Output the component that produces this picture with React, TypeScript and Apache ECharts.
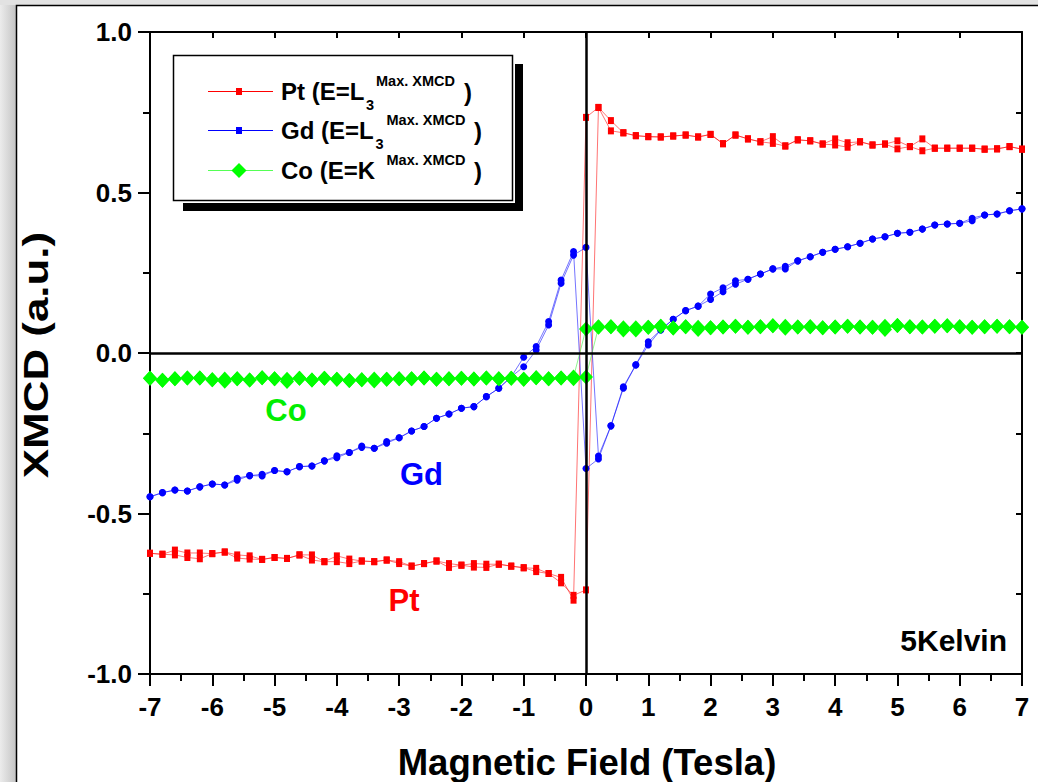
import React, { useEffect, useRef } from "react";
import * as echarts from "echarts";

// Magnetic field (Tesla), both sweeps sampled on the same grid
const fields = [
  -7, -6.8, -6.6, -6.4, -6.2, -6, -5.8, -5.6, -5.4, -5.2,
  -5, -4.8, -4.6, -4.4, -4.2, -4, -3.8, -3.6, -3.4, -3.2,
  -3, -2.8, -2.6, -2.4, -2.2, -2, -1.8, -1.6, -1.4, -1.2,
  -1, -0.8, -0.6, -0.4, -0.2, 0, 0.2, 0.4, 0.6, 0.8,
  1, 1.2, 1.4, 1.6, 1.8, 2, 2.2, 2.4, 2.6, 2.8,
  3, 3.2, 3.4, 3.6, 3.8, 4, 4.2, 4.4, 4.6, 4.8,
  5, 5.2, 5.4, 5.6, 5.8, 6, 6.2, 6.4, 6.6, 6.8,
  7,
];

const ptDown = [
  -0.624, -0.627, -0.614, -0.623, -0.623, -0.625, -0.62, -0.629, -0.632, -0.643,
  -0.637, -0.64, -0.629, -0.629, -0.65, -0.632, -0.642, -0.648, -0.65, -0.645,
  -0.65, -0.664, -0.656, -0.648, -0.656, -0.661, -0.656, -0.658, -0.658, -0.664,
  -0.669, -0.671, -0.687, -0.699, -0.77, 0.734, 0.765, 0.724, 0.686, 0.677,
  0.674, 0.673, 0.676, 0.679, 0.673, 0.681, 0.652, 0.679, 0.667, 0.658,
  0.674, 0.645, 0.664, 0.661, 0.651, 0.667, 0.655, 0.658, 0.648, 0.651,
  0.661, 0.643, 0.667, 0.638, 0.638, 0.638, 0.638, 0.635, 0.636, 0.643,
  0.635,
];
const ptUp = [
  -0.624, -0.627, -0.629, -0.637, -0.641, -0.625, -0.62, -0.639, -0.642, -0.643,
  -0.637, -0.64, -0.629, -0.645, -0.65, -0.65, -0.656, -0.648, -0.65, -0.645,
  -0.656, -0.664, -0.656, -0.648, -0.668, -0.661, -0.667, -0.668, -0.658, -0.664,
  -0.669, -0.681, -0.687, -0.716, -0.755, -0.738, 0.765, 0.692, 0.686, 0.677,
  0.674, 0.673, 0.676, 0.679, 0.673, 0.681, 0.652, 0.679, 0.667, 0.658,
  0.653, 0.645, 0.664, 0.661, 0.651, 0.648, 0.641, 0.658, 0.648, 0.651,
  0.636, 0.643, 0.63, 0.638, 0.638, 0.638, 0.638, 0.635, 0.636, 0.643,
  0.635,
];

const gdDown = [
  -0.448, -0.435, -0.427, -0.43, -0.417, -0.408, -0.411, -0.396, -0.382, -0.383,
  -0.366, -0.37, -0.354, -0.352, -0.336, -0.326, -0.31, -0.294, -0.297, -0.281,
  -0.264, -0.243, -0.229, -0.203, -0.19, -0.172, -0.167, -0.136, -0.11, -0.074,
  -0.043, 0.009, 0.087, 0.217, 0.305, 0.329, -0.321, -0.227, -0.105, -0.037,
  0.025, 0.072, 0.105, 0.132, 0.146, 0.167, 0.191, 0.214, 0.23, 0.246,
  0.262, 0.262, 0.287, 0.3, 0.314, 0.323, 0.331, 0.342, 0.355, 0.362,
  0.373, 0.376, 0.386, 0.399, 0.402, 0.404, 0.42, 0.43, 0.433, 0.443,
  0.449,
];
const gdUp = [
  -0.448, -0.435, -0.427, -0.43, -0.417, -0.408, -0.411, -0.39, -0.382, -0.378,
  -0.366, -0.37, -0.354, -0.352, -0.336, -0.32, -0.31, -0.29, -0.297, -0.276,
  -0.264, -0.243, -0.229, -0.203, -0.19, -0.172, -0.167, -0.136, -0.11, -0.074,
  -0.013, 0.02, 0.098, 0.227, 0.316, -0.36, -0.33, -0.227, -0.11, -0.037,
  0.035, 0.072, 0.105, 0.132, 0.146, 0.184, 0.203, 0.225, 0.23, 0.246,
  0.262, 0.27, 0.287, 0.3, 0.314, 0.323, 0.331, 0.342, 0.355, 0.362,
  0.373, 0.376, 0.386, 0.399, 0.402, 0.404, 0.412, 0.43, 0.433, 0.443,
  0.449,
];

const coDown = [
  -0.079, -0.085, -0.08, -0.078, -0.078, -0.083, -0.081, -0.08, -0.084, -0.077,
  -0.08, -0.082, -0.079, -0.084, -0.079, -0.082, -0.086, -0.083, -0.081, -0.082,
  -0.08, -0.08, -0.078, -0.082, -0.08, -0.079, -0.081, -0.078, -0.08, -0.079,
  -0.082, -0.077, -0.08, -0.078, -0.075, 0.075, 0.082, 0.082, 0.079, 0.079,
  0.08, 0.083, 0.078, 0.082, 0.08, 0.079, 0.081, 0.083, 0.08, 0.082,
  0.085, 0.083, 0.081, 0.082, 0.079, 0.081, 0.083, 0.081, 0.08, 0.083,
  0.086, 0.082, 0.081, 0.083, 0.085, 0.082, 0.08, 0.082, 0.083, 0.082,
  0.08,
];
const coUp = [
  -0.079, -0.085, -0.08, -0.078, -0.078, -0.083, -0.088, -0.08, -0.084, -0.077,
  -0.08, -0.089, -0.079, -0.084, -0.079, -0.082, -0.086, -0.083, -0.087, -0.082,
  -0.08, -0.08, -0.078, -0.082, -0.08, -0.079, -0.081, -0.078, -0.08, -0.079,
  -0.082, -0.077, -0.08, -0.078, -0.08, -0.075, 0.08, 0.082, 0.072, 0.072,
  0.08, 0.083, 0.078, 0.082, 0.073, 0.079, 0.081, 0.083, 0.08, 0.082,
  0.085, 0.077, 0.081, 0.082, 0.079, 0.081, 0.083, 0.081, 0.08, 0.073,
  0.086, 0.082, 0.081, 0.083, 0.085, 0.082, 0.08, 0.082, 0.083, 0.082,
  0.08,
];

const seriesNames = ["Pt", "Gd", "Co"];
const legendMain = ["Pt (E=L", "Gd (E=L", "Co (E=K"];
const legendSub = ["3", "3", ""];
const legendSup = "Max. XMCD";
const xTitle = "Magnetic Field (Tesla)";
const yTitle = "XMCD (a.u.)";
const tempLabel = "5Kelvin";

const RED = "#ff0000";
const BLUE = "#0000ff";
const GREEN = "#00ff00";
const FONT = "'Liberation Sans', Arial, Helvetica, sans-serif";

const pts = (vals: number[]) => fields.map((x, i) => [x, vals[i]]);

function txt(
  text: string,
  x: number,
  y: number,
  size: number,
  color: string,
  align: string = "left",
  extra: any = {}
) {
  return {
    type: "text",
    x,
    y,
    z: 100,
    ...extra,
    style: {
      text,
      x: 0,
      y: 0,
      fill: color,
      fontSize: size,
      fontWeight: "bold",
      fontFamily: FONT,
      align,
      textAlign: align,
      verticalAlign: "middle",
      textVerticalAlign: "middle",
    },
  };
}

export default function App() {
  const ref = useRef<HTMLDivElement>(null);

  useEffect(() => {
    if (!ref.current) return;
    const chart = echarts.init(ref.current, null, { renderer: "svg" });

    const lineSeries = (
      name: string,
      vals: number[],
      color: string,
      symbol: string,
      size: any,
      lineColor: string
    ) => ({
      name,
      type: "line",
      data: pts(vals),
      symbol,
      symbolSize: size,
      showAllSymbol: true,
      itemStyle: { color },
      lineStyle: { color: lineColor, width: 1, opacity: 0.55 },
      emphasis: { disabled: true },
      z: 3,
    });

    const rows = [91.5, 130.5, 170.5];
    const colors = [RED, BLUE, GREEN];
    const lineColors = [RED, BLUE, "#55ff55"];
    const supX = [376, 386.5, 386.5];
    const subX = [366, 375.5, 0];
    const parenX = [464, 474, 474];

    const legendEls: any[] = [
      { type: "rect", z: 90, shape: { x: 515, y: 64, width: 8, height: 139 }, style: { fill: "#000" } },
      { type: "rect", z: 90, shape: { x: 183, y: 203, width: 340, height: 8 }, style: { fill: "#000" } },
      {
        type: "rect",
        z: 91,
        shape: { x: 173.5, y: 55.5, width: 339, height: 145 },
        style: { fill: "#fff", stroke: "#000", lineWidth: 1.5 },
      },
    ];
    rows.forEach((ry, i) => {
      legendEls.push({
        type: "line",
        z: 95,
        shape: { x1: 208, y1: ry, x2: 273, y2: ry },
        style: { stroke: lineColors[i], lineWidth: 1.2 },
      });
      if (i < 2) {
        legendEls.push({
          type: "rect",
          z: 96,
          shape: { x: 236, y: ry - 3.5, width: 6, height: 7 },
          style: { fill: colors[i] },
        });
      } else {
        legendEls.push({
          type: "polygon",
          z: 96,
          shape: { points: [[239, ry - 7.5], [246.5, ry], [239, ry + 7.5], [231.5, ry]] },
          style: { fill: colors[i] },
        });
      }
      legendEls.push(txt(legendMain[i], 281, ry, 24, "#000"));
      if (legendSub[i]) legendEls.push(txt(legendSub[i], subX[i], ry + 13.5, 14.5, "#000"));
      legendEls.push(txt(legendSup, supX[i], ry - 10.5, 14.5, "#000"));
      legendEls.push(txt(")", parenX[i], ry + 0.5, 24, "#000"));
    });

    const option: any = {
      animation: false,
      backgroundColor: "#d6d6d6",
      grid: { left: 150, right: 16, top: 32, bottom: 108, containLabel: false },
      xAxis: [
        {
          type: "value",
          position: "bottom",
          min: -7,
          max: 7,
          interval: 1,
          axisLine: { show: true, onZero: false, lineStyle: { color: "#000", width: 2 } },
          axisTick: { show: true, inside: false, length: 12, lineStyle: { color: "#000", width: 2 } },
          minorTick: { show: true, splitNumber: 2, length: 7, lineStyle: { color: "#000", width: 2 } },
          axisLabel: {
            color: "#000",
            fontSize: 26,
            fontWeight: "bold",
            fontFamily: FONT,
            margin: 20,
          },
          splitLine: { show: false },
        },
        {
          type: "value",
          position: "top",
          min: -7,
          max: 7,
          interval: 1,
          axisLine: { show: true, onZero: false, lineStyle: { color: "#000", width: 2 } },
          axisTick: { show: true, inside: true, length: 6, lineStyle: { color: "#000", width: 2 } },
          axisLabel: { show: false },
          splitLine: { show: false },
        },
      ],
      yAxis: [
        {
          type: "value",
          position: "left",
          min: -1,
          max: 1,
          interval: 0.5,
          axisLine: { show: true, onZero: false, lineStyle: { color: "#000", width: 2 } },
          axisTick: { show: true, inside: false, length: 12, lineStyle: { color: "#000", width: 2 } },
          minorTick: { show: true, splitNumber: 2, length: 7, lineStyle: { color: "#000", width: 2 } },
          axisLabel: {
            color: "#000",
            fontSize: 26,
            fontWeight: "bold",
            fontFamily: FONT,
            margin: 18,
            formatter: (v: number) => v.toFixed(1),
          },
          splitLine: { show: false },
        },
        {
          type: "value",
          position: "right",
          min: -1,
          max: 1,
          interval: 0.25,
          axisLine: { show: true, onZero: false, lineStyle: { color: "#000", width: 2 } },
          axisTick: { show: true, inside: true, length: 6, lineStyle: { color: "#000", width: 2 } },
          axisLabel: { show: false },
          splitLine: { show: false },
        },
      ],
      series: [
        {
          name: "zero",
          type: "line",
          data: [[0, 0]],
          symbol: "none",
          lineStyle: { width: 0 },
          silent: true,
          z: 2,
          markLine: {
            silent: true,
            symbol: "none",
            label: { show: false },
            lineStyle: { color: "#000", width: 2.5, type: "solid" },
            emphasis: { disabled: true },
            data: [{ xAxis: 0 }, { yAxis: 0 }],
          },
        },
        lineSeries(seriesNames[0], ptDown, RED, "rect", [6, 7], RED),
        lineSeries(seriesNames[0], ptUp, RED, "rect", [6, 7], RED),
        lineSeries(seriesNames[1], gdDown, BLUE, "circle", 7, BLUE),
        lineSeries(seriesNames[1], gdUp, BLUE, "circle", 7, BLUE),
        lineSeries(seriesNames[2], coDown, GREEN, "diamond", [14, 15], "#33ee33"),
        lineSeries(seriesNames[2], coUp, GREEN, "diamond", [14, 15], "#33ee33"),
      ],
      graphic: [
        {
          type: "rect",
          z: -10,
          silent: true,
          shape: { x: 0, y: 0, width: 16, height: 782 },
          style: {
            fill: new echarts.graphic.LinearGradient(0, 0, 1, 0, [
              { offset: 0, color: "#ececec" },
              { offset: 1, color: "#c4c4c4" },
            ]),
          },
        },
        {
          type: "rect",
          z: -10,
          silent: true,
          shape: { x: 0, y: 0, width: 1038, height: 5 },
          style: { fill: "#e2e2e2" },
        },
        {
          type: "rect",
          z: -9,
          silent: true,
          shape: { x: 16.5, y: 5.5, width: 1040, height: 800 },
          style: { fill: "#ffffff", stroke: "#000", lineWidth: 1.5 },
        },
        ...legendEls,
        txt(seriesNames[2], 286, 410, 31, "#00ee00", "center"),
        txt(seriesNames[1], 421.5, 474, 31, BLUE, "center"),
        txt(seriesNames[0], 404, 600, 31, RED, "center"),
        txt(tempLabel, 1007, 640, 30, "#000", "right"),
        txt(xTitle, 587, 762, 36.5, "#000", "center"),
        txt(yTitle, 36, 355, 36, "#000", "center", { rotation: Math.PI / 2, scaleX: 1.22 }),
      ],
    };

    chart.setOption(option);
    return () => chart.dispose();
  }, []);

  return (
    <div
      ref={ref}
      style={{ position: "absolute", left: 0, top: 0, width: 1038, height: 782 }}
    />
  );
}
